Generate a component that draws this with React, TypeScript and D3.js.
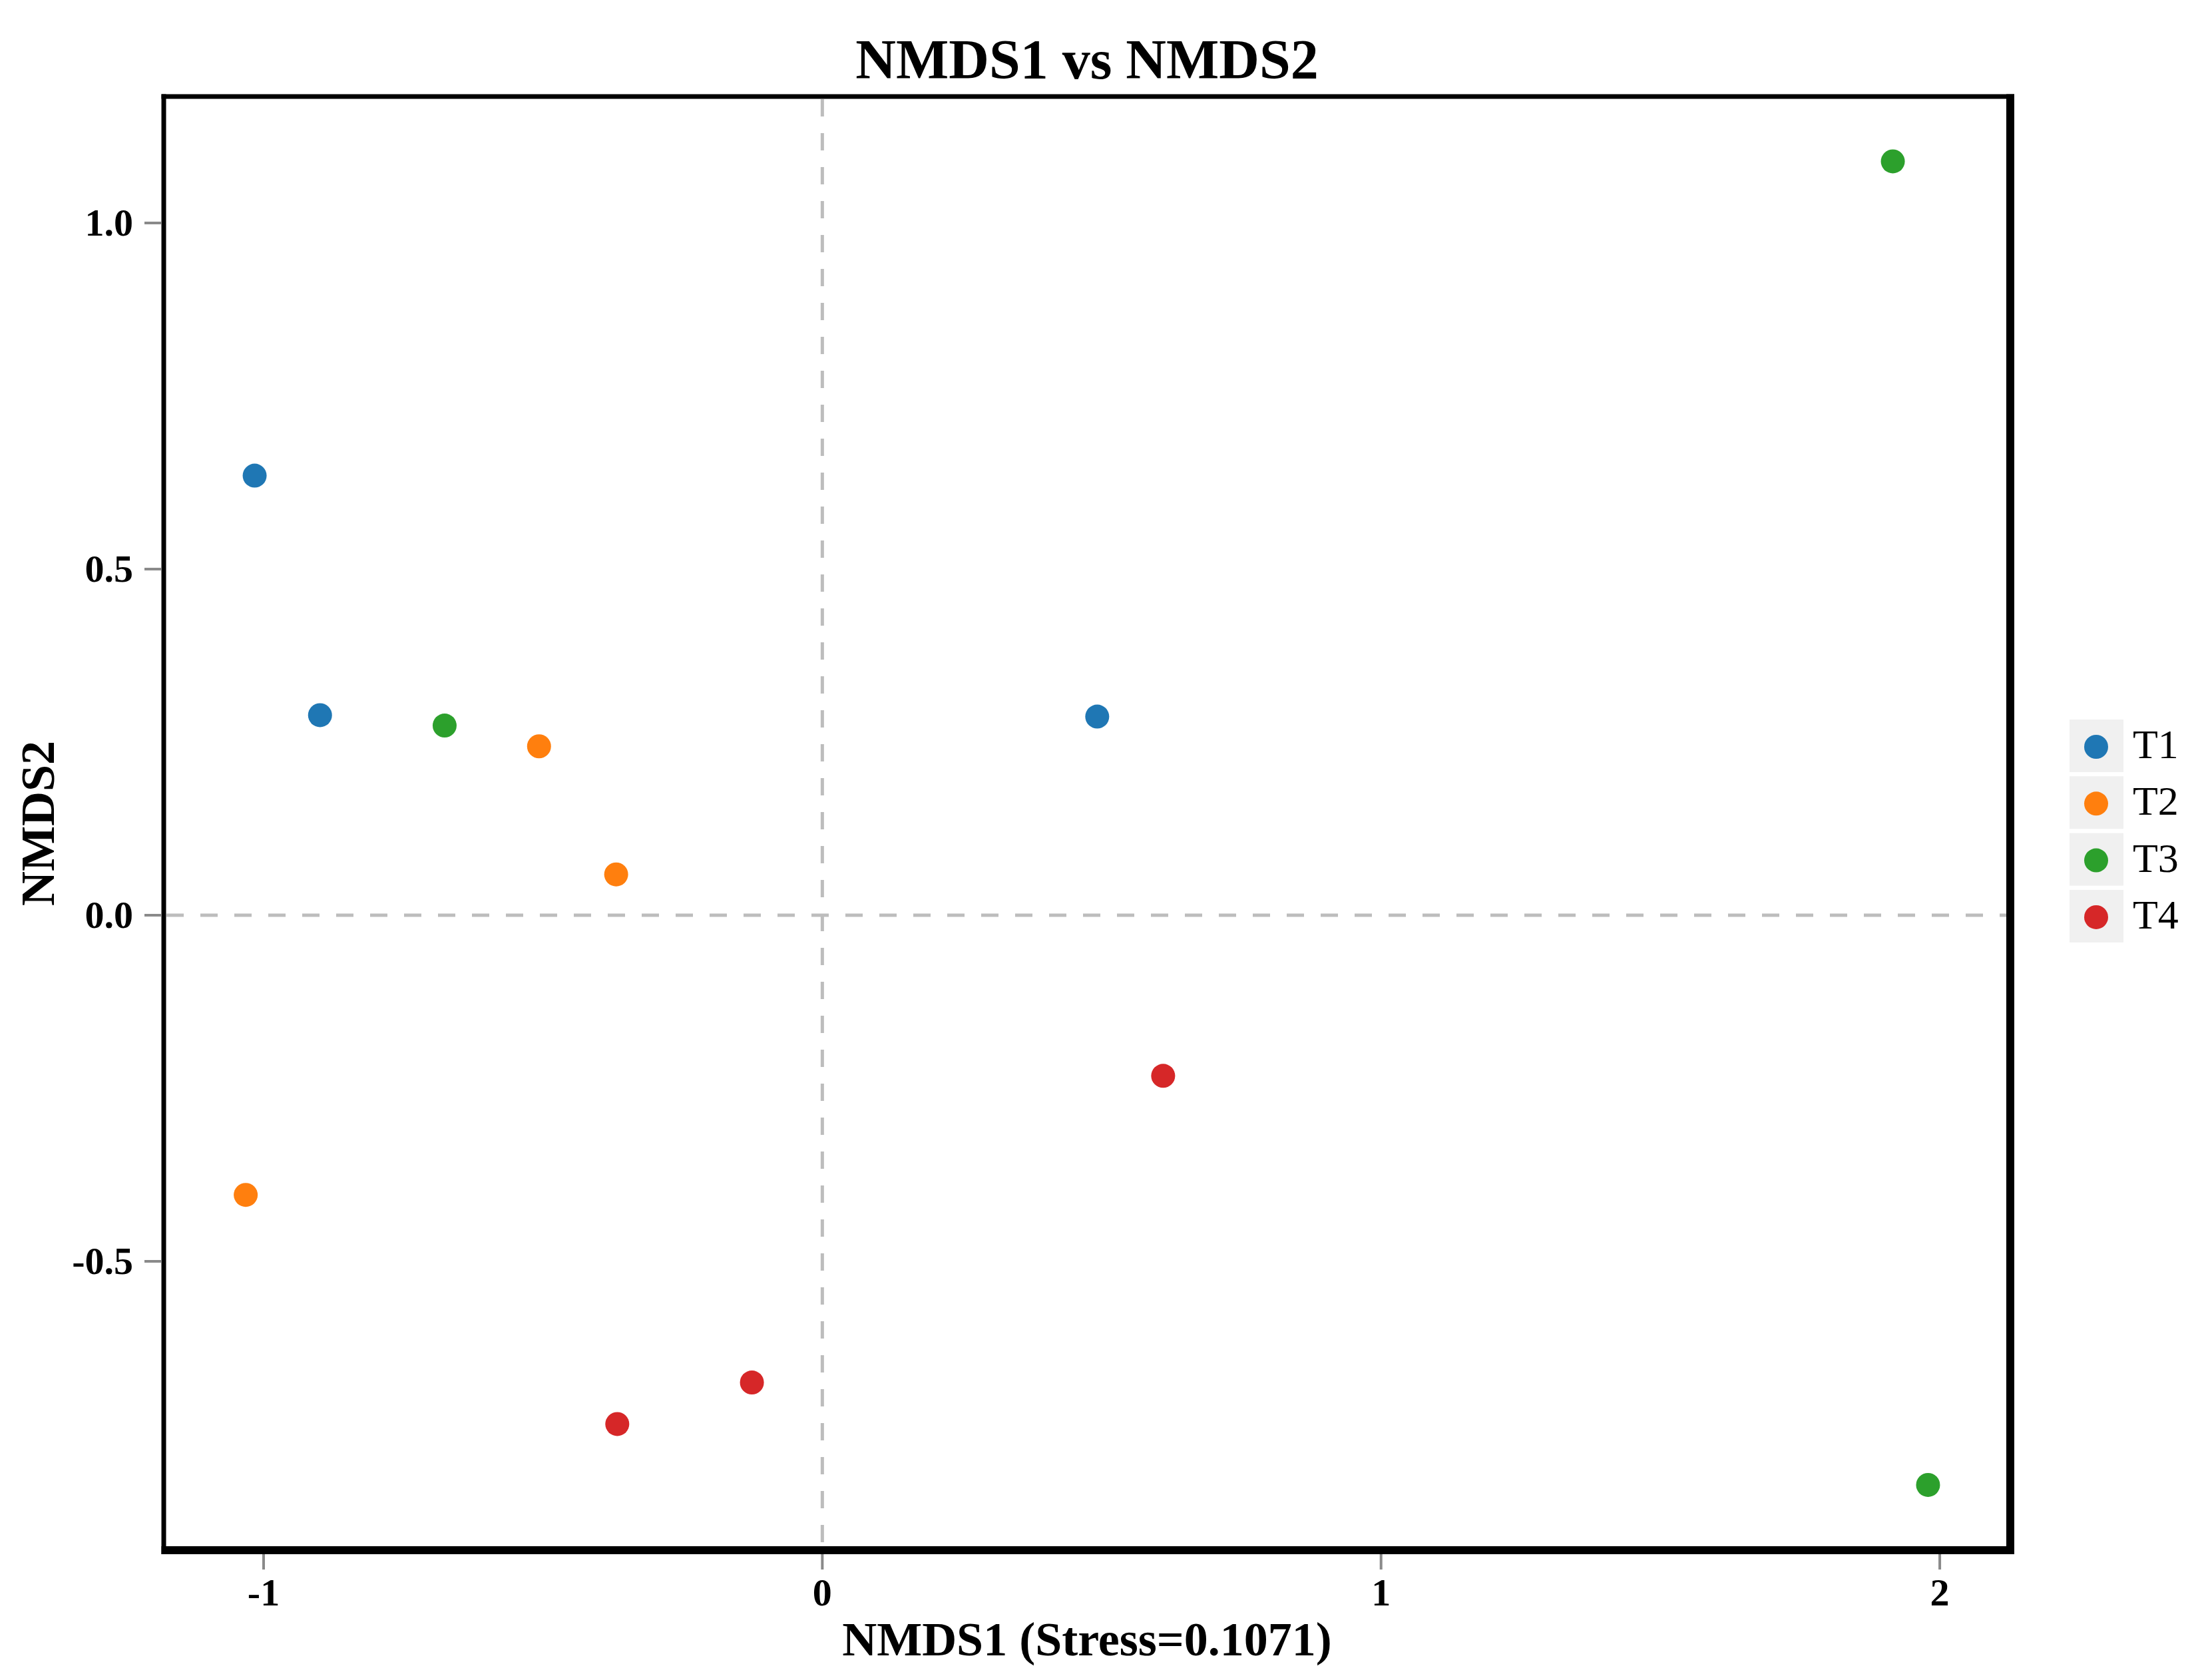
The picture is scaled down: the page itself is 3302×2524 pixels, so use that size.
import React from "react";
import * as d3 from "d3";

const groups = ["T1", "T2", "T3", "T4"];
const groupColors = ["#1f77b4", "#ff7f0e", "#2ca02c", "#d62728"];
const nmds1 = [-1.016, -0.899, 0.492, -0.507, -0.369, -1.032, 1.916, -0.676, 1.979, 0.61, -0.126, -0.367];
const nmds2 = [0.635, 0.289, 0.287, 0.244, 0.059, -0.404, 1.089, 0.274, -0.823, -0.232, -0.675, -0.735];
const sampleGroup = ["T1", "T1", "T1", "T2", "T2", "T2", "T3", "T3", "T3", "T4", "T4", "T4"];
const xTicks = [-1, 0, 1, 2];
const yTicks = [-0.5, 0.0, 0.5, 1.0];
const title = "NMDS1 vs NMDS2";
const xLabel = "NMDS1 (Stress=0.1071)";
const yLabel = "NMDS2";

const W = 3302;
const H = 2524;
const L = 246, R = 3020, T = 145, B = 2329;
const font = "'Liberation Serif', 'Times New Roman', serif";

const fmtY = (v: number) => d3.format(".1f")(v).replace("\u2212", "-");
const fmtX = (v: number) => d3.format("d")(v).replace("\u2212", "-");

export default function App() {
  const x = d3.scaleLinear().domain([-1.1787, 2.1262]).range([L, R]);
  const y = d3.scaleLinear().domain([-0.9173, 1.1827]).range([B, T]);
  const color = d3.scaleOrdinal<string, string>().domain(groups).range(groupColors);
  const pts = nmds1.map((v, i) => ({ x: v, y: nmds2[i], g: sampleGroup[i] }));
  const legendTop = 1081;
  const legendStep = 85.3;

  return (
    <svg width={W} height={H} style={{ position: "absolute", left: 0, top: 0, background: "#fff" }}>
      <rect x={0} y={0} width={W} height={H} fill="#fff" />
      {/* reference dashed lines */}
      <line x1={x(0)} x2={x(0)} y1={T + 4} y2={B - 6} stroke="#bdbdbd" strokeWidth={5} strokeDasharray="26 25" />
      <line x1={L + 4} x2={R - 6} y1={y(0)} y2={y(0)} stroke="#bdbdbd" strokeWidth={5} strokeDasharray="26 25" />
      {/* points */}
      {pts.map((p, i) => (
        <circle key={i} cx={x(p.x)} cy={y(p.y)} r={18} fill={color(p.g)} />
      ))}
      {/* frame */}
      <line x1={L} x2={L} y1={T - 3.5} y2={B + 6} stroke="#000" strokeWidth={7} />
      <line x1={L - 3.5} x2={R + 6} y1={T} y2={T} stroke="#000" strokeWidth={7} />
      <line x1={R} x2={R} y1={T - 3.5} y2={B + 6} stroke="#000" strokeWidth={12} />
      <line x1={L - 3.5} x2={R + 6} y1={B} y2={B} stroke="#000" strokeWidth={12} />
      {/* y ticks */}
      {yTicks.map((t) => (
        <g key={"y" + t}>
          <line x1={217} x2={L - 3.5} y1={y(t)} y2={y(t)} stroke="#8a8a8a" strokeWidth={4} />
          <text x={200} y={y(t) + 19} textAnchor="end" fontFamily={font} fontWeight="bold" fontSize={58} fill="#000">
            {fmtY(t)}
          </text>
        </g>
      ))}
      {/* x ticks */}
      {xTicks.map((t) => (
        <g key={"x" + t}>
          <line x1={x(t)} x2={x(t)} y1={B + 6} y2={2358} stroke="#8a8a8a" strokeWidth={4} />
          <text x={x(t)} y={2412} textAnchor="middle" fontFamily={font} fontWeight="bold" fontSize={58} fill="#000">
            {fmtX(t)}
          </text>
        </g>
      ))}
      {/* titles */}
      <text x={(L + R) / 2} y={118} textAnchor="middle" fontFamily={font} fontWeight="bold" fontSize={84} fill="#000">
        {title}
      </text>
      <text x={(L + R) / 2} y={2487} textAnchor="middle" fontFamily={font} fontWeight="bold" fontSize={72} fill="#000">
        {xLabel}
      </text>
      <text
        transform={`translate(81, ${(T + B) / 2}) rotate(-90)`}
        textAnchor="middle"
        fontFamily={font}
        fontWeight="bold"
        fontSize={72}
        fill="#000"
      >
        {yLabel}
      </text>
      {/* legend */}
      {groups.map((g, i) => (
        <g key={g} transform={`translate(3109, ${legendTop + i * legendStep})`}>
          <rect x={0} y={0} width={81} height={79} fill="#f0f0f0" />
          <circle cx={40} cy={41} r={18} fill={color(g)} />
          <text x={95} y={58} fontFamily={font} fontSize={62} fill="#000">
            {g}
          </text>
        </g>
      ))}
    </svg>
  );
}
